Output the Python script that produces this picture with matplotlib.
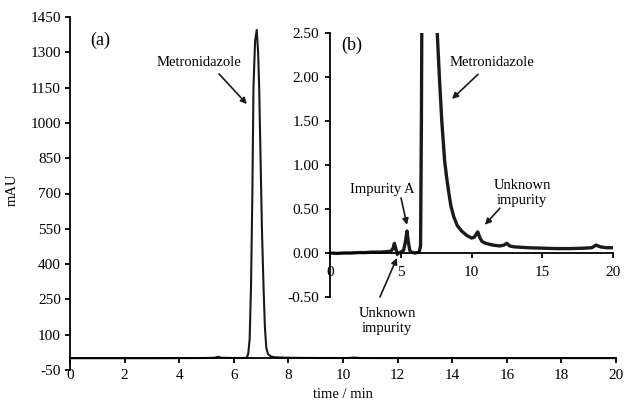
import matplotlib
matplotlib.use("Agg")
import matplotlib.pyplot as plt
from matplotlib.ticker import FormatStrFormatter

# full chromatogram (a), mAU
main_time = [0, 1, 2, 3, 4, 5, 5.3, 5.42, 5.55, 6.0, 6.40, 6.48, 6.53, 6.58, 6.63, 6.68, 6.72,
             6.78, 6.84, 6.89, 6.93, 6.98, 7.03, 7.09, 7.14, 7.19, 7.25, 7.35, 7.5, 8.0, 9.0,
             10.2, 10.4, 10.6, 12, 15, 20]
main_mau = [0, 0, 0, 0, 0.5, 1, 2, 6, 2, 1, 1, 3, 20, 80, 300, 700, 1150,
            1350, 1395, 1300, 1150, 850, 550, 300, 130, 45, 18, 8, 4, 2, 1,
            1, 3, 1, 0.5, 0.5, 0.5]

# zoomed view (b)
inset_time = [0, 0.5, 1, 1.5, 2, 2.5, 3, 3.5, 4, 4.3, 4.45, 4.55, 4.65, 4.75, 4.85, 5.0, 5.2,
              5.32, 5.44, 5.54, 5.64, 5.75, 6.0, 6.3, 6.4, 6.46, 6.5, 6.6, 7.5, 7.58, 7.73,
              7.9, 8.1, 8.25, 8.4, 8.55, 8.75, 9.0, 9.3, 9.66, 10.0, 10.2, 10.44, 10.6, 10.75,
              11.0, 11.5, 12.0, 12.3, 12.5, 12.7, 13.0, 14.0, 15.0, 16.0, 17.0, 18.0, 18.5,
              18.8, 19.1, 19.5, 20.0]
inset_mau = [0.0, -0.005, 0.0, 0.0, 0.005, 0.005, 0.01, 0.01, 0.015, 0.02, 0.05, 0.11, 0.05,
             -0.015, 0.0, 0.01, 0.03, 0.12, 0.25, 0.12, 0.03, 0.01, 0.0, 0.01, 0.08, 1.5,
             3.0, 5.0, 5.0, 2.5, 2.0, 1.5, 1.05, 0.85, 0.68, 0.53, 0.41, 0.31, 0.25, 0.2,
             0.17, 0.18, 0.24, 0.17, 0.13, 0.11, 0.09, 0.08, 0.09, 0.11, 0.08, 0.07, 0.06,
             0.055, 0.05, 0.05, 0.055, 0.06, 0.09, 0.07, 0.06, 0.06]

main_xticks = [0, 2, 4, 6, 8, 10, 12, 14, 16, 18, 20]
main_yticks = [-50, 100, 250, 400, 550, 700, 850, 1000, 1150, 1300, 1450]
inset_xticks = [0, 5, 10, 15, 20]
inset_yticks = [-0.5, 0.0, 0.5, 1.0, 1.5, 2.0, 2.5]

plt.rcParams.update({
    "font.family": ["Liberation Serif", "DejaVu Serif"],
    "font.size": 10.5,
    "xtick.labelsize": 11,
    "ytick.labelsize": 11,
    "axes.unicode_minus": False,
    "axes.linewidth": 1.3,
    "xtick.major.width": 1.3,
    "ytick.major.width": 1.3,
    "xtick.major.size": 3.6,
    "ytick.major.size": 3.6,
    "xtick.direction": "out",
    "ytick.direction": "out",
})

fig = plt.figure(figsize=(6.25, 4.01), dpi=100)
ax = fig.add_axes([70 / 625, 1 - 370 / 401, 546 / 625, 353 / 401])
ax_in = fig.add_axes([330 / 625, 1 - 297 / 401, 283 / 625, 264 / 401])

for axis in [ax, ax_in]:
    axis.spines["top"].set_visible(False)
    axis.spines["right"].set_visible(False)
    axis.spines["bottom"].set_position(("data", 0))
    axis.set_facecolor("none")

ax.plot(main_time, main_mau, color="#1a1a1a", linewidth=1.5)
ax.set_xlim(0, 20)
ax.set_ylim(-50, 1450)
ax.set_xticks(main_xticks)
ax.set_yticks(main_yticks)
ax.tick_params(axis="x", pad=4)
ax.tick_params(axis="y", pad=3)

ax_in.plot(inset_time, inset_mau, color="#1a1a1a", linewidth=2.4)
ax_in.set_xlim(0, 20)
ax_in.set_ylim(-0.5, 2.5)
ax_in.set_xticks(inset_xticks)
ax_in.set_yticks(inset_yticks)
ax_in.yaxis.set_major_formatter(FormatStrFormatter("%.2f"))
ax_in.tick_params(axis="x", pad=6)
ax_in.tick_params(axis="y", pad=4)

arrow = dict(arrowstyle="-|>", color="#1a1a1a", lw=1.2, mutation_scale=9, shrinkA=0, shrinkB=0)

ax.text(1.1, 1352, "(a)", fontsize=13, ha="center", va="center")
ax.text(4.73, 1255, "Metronidazole", ha="center", va="center")
ax.annotate("", xy=(6.48, 1080), xytext=(5.46, 1208), arrowprops=arrow)

ax_in.text(1.55, 2.36, "(b)", fontsize=13, ha="center", va="center")
ax_in.text(11.45, 2.16, "Metronidazole", ha="center", va="center")
ax_in.annotate("", xy=(8.62, 1.75), xytext=(10.46, 2.03), arrowprops=arrow)
ax_in.text(3.67, 0.716, "Impurity A", ha="center", va="center")
ax_in.annotate("", xy=(5.44, 0.32), xytext=(5.02, 0.625), arrowprops=arrow)
ax_in.text(13.57, 0.68, "Unknown\nimpurity", ha="center", va="center")
ax_in.annotate("", xy=(10.95, 0.32), xytext=(12.01, 0.51), arrowprops=arrow)
ax_in.text(4.03, -0.77, "Unknown\nimpurity", ha="center", va="center", clip_on=False)
ax_in.annotate("", xy=(4.73, -0.057), xytext=(3.53, -0.5), arrowprops=arrow,
               annotation_clip=False)

fig.text(12 / 625, 1 - 190 / 401, "mAU", rotation=90, ha="center", va="center")
fig.text(343 / 625, 1 - 394 / 401, "time / min", ha="center", va="center")

fig.savefig("out.png", dpi=100, facecolor="white")
